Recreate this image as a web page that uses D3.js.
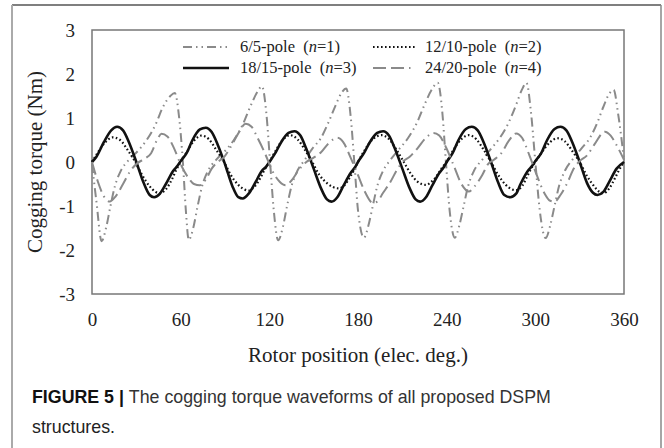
<!DOCTYPE html>
<html>
<head>
<meta charset="utf-8">
<script src="https://cdn.jsdelivr.net/npm/d3@7"></script>
<style>
  body { margin: 0; background: #fff; }
  svg text { font-family: "Liberation Serif", "Times New Roman", serif; fill: #222; }
  .caption { font-family: "Liberation Sans", Arial, sans-serif; }
</style>
</head>
<body>
<svg id="svg"></svg>
<script>
// 6/5-pole (n=1): [rotor position, torque]
const pole6 = [[0,-0.05],[3,-0.9],[6.5,-1.8],[9.5,-1.5],[12.5,-1.0],[15.5,-0.55],[19.5,-0.2],[25,0.05],[31,0.25],[37,0.5],[43,0.85],[48,1.25],[53,1.5],[56,1.57],[59,1.0],[61.5,0.0],[63.5,-1.1],[65.5,-1.77],
  [68.5,-1.5],[71.5,-1.0],[74.5,-0.55],[78.5,-0.2],[84,0.05],[90,0.25],[96,0.5],[102,0.85],[107,1.25],[112,1.6],[115,1.72],[118,1.1],[120.5,0],[123,-1.1],[126,-1.78],
  [129,-1.5],[132,-1.0],[135,-0.55],[139,-0.2],[144,0.05],[149,0.3],[155,0.55],[160,0.9],[165,1.3],[169,1.58],[172,1.67],[175,1.05],[177.5,0],[180,-1.1],[184,-1.72],
  [187,-1.45],[190,-1.0],[193,-0.55],[197,-0.2],[202,0.05],[208,0.3],[214,0.55],[220,0.9],[225,1.3],[230,1.65],[234,1.8],[237,1.15],[239.5,0],[242,-1.1],[245.5,-1.72],
  [248.5,-1.45],[251.5,-1.0],[254.5,-0.55],[258.5,-0.2],[264,0.05],[270,0.3],[276,0.55],[282,0.9],[287,1.3],[291,1.65],[294,1.8],[297,1.15],[300,0],[303,-1.1],[307,-1.73],
  [310,-1.45],[313,-1.0],[316,-0.55],[320,-0.2],[325,0.05],[331,0.3],[337,0.55],[342,0.9],[346,1.25],[350,1.55],[353,1.64],[356,1.1],[360,0.05]];

// 12/10-pole (n=2)
const pole12 = [[0,0],[4,0.22],[9,0.45],[14,0.56],[19,0.5],[24,0.28],[29,0.02],[34,-0.3],[39,-0.55],[43,-0.68],[46,-0.71],[50,-0.62],[54,-0.4],[57,-0.18],
  [60,0],[64,0.22],[69,0.48],[74,0.6],[79,0.52],[84,0.28],[89,0.02],[94,-0.3],[99,-0.52],[103,-0.62],[106,-0.65],[110,-0.56],[114,-0.36],[117,-0.16],
  [120,0],[124,0.24],[129,0.5],[134,0.61],[139,0.52],[144,0.28],[149,0.0],[154,-0.3],[159,-0.48],[163,-0.57],[167,-0.6],[171,-0.52],[175,-0.32],[178,-0.14],
  [180,0],[184,0.24],[190,0.52],[196,0.61],[201,0.52],[206,0.28],[211,0.0],[216,-0.28],[220,-0.44],[223,-0.5],[226,-0.52],[230,-0.44],[234,-0.28],[237,-0.12],
  [240,0],[244,0.24],[250,0.52],[255,0.61],[260,0.52],[265,0.28],[270,0.0],[275,-0.3],[280,-0.52],[284,-0.62],[287,-0.64],[291,-0.55],[294,-0.36],[297,-0.16],
  [300,0],[304,0.2],[310,0.45],[315,0.54],[320,0.47],[325,0.25],[330,0.0],[335,-0.32],[340,-0.56],[343,-0.67],[346,-0.71],[350,-0.6],[354,-0.36],[357,-0.16],[360,0]];

// 18/15-pole (n=3)
const pole18 = [[0,0],[3,0.12],[8,0.45],[13,0.72],[17,0.8],[21,0.72],[25,0.45],[30,0.0],[35,-0.48],[39,-0.75],[42,-0.8],[46,-0.72],[50,-0.5],[55,-0.2],[58,-0.08],
  [60,0.02],[64,0.2],[68,0.5],[73,0.74],[77,0.78],[81,0.68],[85,0.4],[90,-0.05],[95,-0.55],[99,-0.8],[102,-0.83],[106,-0.72],[110,-0.5],[115,-0.2],[118,-0.1],
  [120,0.0],[124,0.2],[128,0.45],[133,0.66],[137,0.7],[141,0.6],[145,0.3],[150,-0.15],[155,-0.6],[159,-0.85],[162,-0.9],[166,-0.8],[170,-0.55],[175,-0.25],[178,-0.12],
  [180,0.0],[184,0.2],[188,0.45],[193,0.66],[197,0.7],[201,0.6],[205,0.3],[210,-0.15],[215,-0.6],[219,-0.85],[222,-0.9],[226,-0.8],[230,-0.55],[235,-0.25],[238,-0.12],
  [240,0.0],[244,0.2],[248,0.5],[253,0.75],[257,0.8],[261,0.72],[265,0.45],[270,0.0],[275,-0.48],[279,-0.75],[283,-0.8],[287,-0.72],[290,-0.5],[295,-0.2],[298,-0.08],
  [300,0.02],[304,0.2],[308,0.5],[313,0.75],[317,0.8],[321,0.72],[325,0.45],[330,0.0],[335,-0.48],[339,-0.7],[342,-0.75],[346,-0.68],[350,-0.45],[355,-0.15],[360,0]];

// 24/20-pole (n=4)
const pole24 = [[0,0],[4,-0.45],[8,-0.78],[12,-0.9],[16,-0.78],[21,-0.5],[26,-0.2],[31,-0.02],[36,0.08],[40,0.2],[44,0.5],[47,0.64],[51,0.58],[55,0.35],[60,-0.05],[65,-0.35],[69,-0.5],[73,-0.53],[77,-0.4],[81,-0.15],[85,0.0],[89,0.1],[94,0.35],[99,0.65],[104,0.87],[108,0.8],[112,0.55],[117,0.2],[122,-0.2],[127,-0.45],[131,-0.53],[135,-0.42],[140,-0.18],[145,0.0],[150,0.1],[155,0.22],[160,0.42],[166,0.55],[170,0.45],[175,0.1],[180,-0.3],[185,-0.7],[190,-0.93],[193,-0.9],[197,-0.7],[202,-0.45],[206,-0.2],[210,0.0],[215,0.12],[220,0.3],[226,0.55],[231,0.66],[235,0.6],[240,0.3],[245,-0.1],[250,-0.5],[255,-0.67],[259,-0.55],[264,-0.3],[268,-0.05],[272,0.05],[277,0.2],[282,0.48],[287,0.65],[291,0.55],[296,0.15],[301,-0.3],[306,-0.7],[310,-0.88],[313,-0.9],[317,-0.75],[322,-0.45],[326,-0.15],[330,0.02],[335,0.15],[340,0.4],[347,0.69],[351,0.6],[355,0.38],[360,0.05]];

const xTicks = [0, 60, 120, 180, 240, 300, 360];
const yTicks = [-3, -2, -1, 0, 1, 2, 3];

const series = [
  {name: "6/5-pole", n: 1, data: pole6, color: "#8a8a8a", width: 2, dash: "9,4,1.5,4,1.5,4"},
  {name: "12/10-pole", n: 2, data: pole12, color: "#111", width: 2.2, dash: "1.6,2.4"},
  {name: "18/15-pole", n: 3, data: pole18, color: "#111", width: 2.6, dash: null},
  {name: "24/20-pole", n: 4, data: pole24, color: "#8a8a8a", width: 2, dash: "13,5,13,5,1.5,5"}
];

let layout = {"width": 664, "height": 448,
              "marginTop": 30, "marginRight": 40,
              "marginBottom": 154, "marginLeft": 92};

let svgElement = d3.select("#svg")
  .attr("width", layout.width)
  .attr("height", layout.height);

// outer figure frame
svgElement.append("line").attr("x1", 12).attr("x2", 661).attr("y1", 5).attr("y2", 5)
  .attr("stroke", "#555").attr("stroke-width", 1.5);
svgElement.append("line").attr("x1", 12).attr("x2", 12).attr("y1", 5).attr("y2", 448)
  .attr("stroke", "#aaa").attr("stroke-width", 2);
svgElement.append("line").attr("x1", 661).attr("x2", 661).attr("y1", 5).attr("y2", 448)
  .attr("stroke", "#888").attr("stroke-width", 1.5);

let xScale = d3.scaleLinear()
  .domain([0, 360])
  .range([layout.marginLeft, layout.width - layout.marginRight]);

let yScale = d3.scaleLinear()
  .domain([-3, 3])
  .range([layout.height - layout.marginBottom, layout.marginTop]);

// plot box
svgElement.append("rect")
  .attr("x", xScale(0)).attr("y", yScale(3))
  .attr("width", xScale(360) - xScale(0))
  .attr("height", yScale(-3) - yScale(3))
  .attr("fill", "none").attr("stroke", "#777").attr("stroke-width", 1.5);

svgElement.append("g")
  .attr("transform", `translate(0, ${yScale(-3)})`)
  .call(d3.axisBottom(xScale).tickValues(xTicks).tickSize(0).tickPadding(19).tickFormat(d => String(d)))
  .call(g => g.select(".domain").remove())
  .selectAll("text")
  .attr("font-family", "Liberation Serif, serif")
  .attr("font-size", 19).attr("fill", "#222");

svgElement.append("g")
  .attr("transform", `translate(${xScale(0)}, 0)`)
  .call(d3.axisLeft(yScale).tickValues(yTicks).tickSize(0).tickPadding(17).tickFormat(d => String(d)))
  .call(g => g.select(".domain").remove())
  .selectAll("text")
  .attr("font-family", "Liberation Serif, serif")
  .attr("font-size", 19).attr("fill", "#222");

svgElement.append("text")
  .attr("text-anchor", "middle")
  .attr("transform", `translate(42, ${yScale(0)}) rotate(-90)`)
  .attr("font-size", 21)
  .text("Cogging torque (Nm)");

svgElement.append("text")
  .attr("text-anchor", "middle")
  .attr("x", (xScale(0) + xScale(360)) / 2)
  .attr("y", 362)
  .attr("font-size", 21)
  .text("Rotor position (elec. deg.)");

let line = d3.line()
  .x(d => xScale(d[0]))
  .y(d => yScale(d[1]))
  .curve(d3.curveMonotoneX);

svgElement.append("g")
  .selectAll("path")
  .data(series)
  .join("path")
  .attr("d", d => line(d.data))
  .attr("fill", "none")
  .attr("stroke", d => d.color)
  .attr("stroke-width", d => d.width)
  .attr("stroke-dasharray", d => d.dash)
  .attr("stroke-linejoin", "round");

// legend
let legendPos = [[183, 229, 240, 47], [373, 415, 425, 47], [183, 229, 240, 68], [373, 415, 425, 68]];
let legend = svgElement.append("g")
  .selectAll("g")
  .data(series)
  .join("g");

legend.append("line")
  .attr("x1", (d, i) => legendPos[i][0]).attr("x2", (d, i) => legendPos[i][1])
  .attr("y1", (d, i) => legendPos[i][3]).attr("y2", (d, i) => legendPos[i][3])
  .attr("stroke", d => d.color)
  .attr("stroke-width", d => d.width)
  .attr("stroke-dasharray", d => d.dash);

let legendText = legend.append("text")
  .attr("x", (d, i) => legendPos[i][2])
  .attr("y", (d, i) => legendPos[i][3] + 5)
  .attr("font-size", 16.5);
legendText.append("tspan").text(d => d.name + "\u00a0\u00a0(");
legendText.append("tspan").attr("font-style", "italic").text("n");
legendText.append("tspan").text(d => "=" + d.n + ")");

// caption
let caption = svgElement.append("text")
  .attr("class", "caption")
  .attr("x", 32).attr("y", 403)
  .attr("font-size", 17.8);
caption.append("tspan").attr("font-weight", "bold").attr("fill", "#111").text("FIGURE 5 | ");
caption.append("tspan").attr("fill", "#333").text("The cogging torque waveforms of all proposed DSPM");

svgElement.append("text")
  .attr("class", "caption")
  .attr("x", 32).attr("y", 433)
  .attr("font-size", 17.8)
  .attr("fill", "#333")
  .text("structures.");
</script>
</body>
</html>
